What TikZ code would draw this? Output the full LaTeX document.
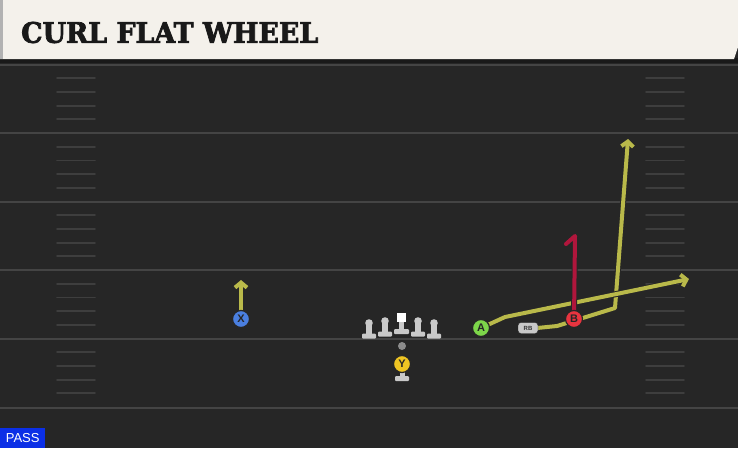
\documentclass[tikz,border=0pt]{standalone}
\usepackage{fontspec}
\usetikzlibrary{arrows.meta}
\newfontfamily\titlefont[FakeBold=2.5]{DejaVu Serif Condensed}
\newfontfamily\labelfont{Liberation Sans}
\definecolor{bgc}{HTML}{262626}
\definecolor{headc}{HTML}{F4F1EB}
\definecolor{yardc}{HTML}{444444}
\definecolor{hashc}{HTML}{3E3E3E}
\definecolor{routey}{HTML}{B9B94A}
\definecolor{router}{HTML}{B0163C}
\definecolor{pA}{HTML}{7DD64A}
\definecolor{pB}{HTML}{E8343F}
\definecolor{pX}{HTML}{4A7FE0}
\definecolor{pY}{HTML}{EFC523}
\definecolor{lmc}{HTML}{C9C9C9}
\definecolor{passb}{HTML}{0B2FE6}
\tikzset{
  yard/.style={draw=yardc, line width=2pt},
  hashm/.style={draw=hashc, line width=1.8pt, line cap=round},
  route/.style={draw=routey, line width=4pt, line join=round,
    preaction={draw=black!85, line width=6pt}},
  redroute/.style={draw=router, line width=4pt, line join=round,
    preaction={draw=black!85, line width=6pt}},
  tip/.style={-{Straight Barb[length=5pt,width=12pt]}},
  player/.style={circle, minimum size=17pt, inner sep=0pt, draw=black!85,
    line width=1.2pt, font=\labelfont\bfseries\fontsize{11}{11}\selectfont, text=black!85},
  rbstyle/.style={fill=lmc, draw=black!85, rounded corners=3pt, minimum width=20pt,
    minimum height=11pt, inner sep=0pt, font=\labelfont\bfseries\fontsize{6}{6}\selectfont,
    text=black!80},
  lm/.style={fill=lmc},
  lineman/.pic={
    \fill[lm] (-3,0) rectangle (3,12);
    \fill[lm] (0,0) circle (3.8);
    \fill[lm, rounded corners=1pt] (-7,10.5) rectangle (7,15.5);
  }
}
\begin{document}
\begin{tikzpicture}[x=1pt,y=-1pt]
\useasboundingbox (0,0) rectangle (738,448);
\fill[bgc] (0,0) rectangle (738,448);
% yard lines
\foreach \yy in {64.5,133,201.5,270,338.5,407.5}
  \draw[yard] (0,\yy) -- (738,\yy);
% hash marks
\foreach \base in {64.5,133,201.5,270,338.5}
  \foreach \k in {1,2,3,4}{
    \draw[hashm] (57,\base+13.7*\k) -- (95,\base+13.7*\k);
    \draw[hashm] (646,\base+13.7*\k) -- (684,\base+13.7*\k);
  }
% header
\fill[black!90] (0,58) rectangle (738,63);
\fill[headc] (0,0) -- (738,0) -- (738,47) -- (734,59) -- (0,59) -- cycle;
\fill[black!30] (0,0) rectangle (3,59);
\node[anchor=west, inner sep=0pt, text=black!90] (title) at (21,32.5)
  {\resizebox{297pt}{21pt}{\titlefont\bfseries CURL FLAT WHEEL}};
% pass label
\node[fill=passb, text=white, anchor=south west, minimum width=45pt,
  minimum height=20pt, inner sep=0pt, font=\labelfont\fontsize{13}{13}\selectfont]
  (pass) at (0,448) {PASS};
% route coordinates
\coordinate (Apos) at (481,328);
\coordinate (Bpos) at (574,319);
\coordinate (Xpos) at (241,319);
\coordinate (RBpos) at (528,328);
\coordinate (a1) at (505,317);
\coordinate (a2) at (689,279);
\coordinate (r1) at (557,326);
\coordinate (r2) at (615,308);
\coordinate (r3) at (628,139);
\coordinate (b1) at (575,236);
\coordinate (b2) at (566,244);
\coordinate (x1) at (241,280);
% routes (drawn first, players on top)
\draw[route, tip] ([xshift=9pt]RBpos) -- (r1) -- (r2) -- (r3);
\draw[route, tip] (Apos) -- (a1) -- (a2);
\draw[redroute, line cap=round] (Bpos) -- (b1) -- (b2);
\draw[route, tip] (Xpos) -- (x1);
% players
\node[player, fill=pA] (A) at (Apos) {A};
\node[player, fill=pB] (B) at (Bpos) {B};
\node[player, fill=pX] (X) at (Xpos) {X};
\node[rbstyle] (RB) at (RBpos) {RB};
% offensive line
\pic at (369,323) {lineman};
\pic at (385,321) {lineman};
\pic at (418,321) {lineman};
\pic at (434,323) {lineman};
\fill[lmc] (399,321) rectangle (404,331);
\fill[lmc, rounded corners=1pt] (394,329) rectangle (409,334);
\node[fill=white, minimum size=9pt, inner sep=0pt] (C) at (401.5,317.5) {};
\node[circle, fill=black!45, minimum size=8pt, inner sep=0pt] (ball) at (402,346) {};
% Y pedestal
\fill[lmc] (399.5,372) rectangle (404.5,377);
\fill[lmc, rounded corners=1pt] (395,376) rectangle (409,381);
\node[player, fill=pY] (Y) at (402,364) {Y};
\end{tikzpicture}
\end{document}
